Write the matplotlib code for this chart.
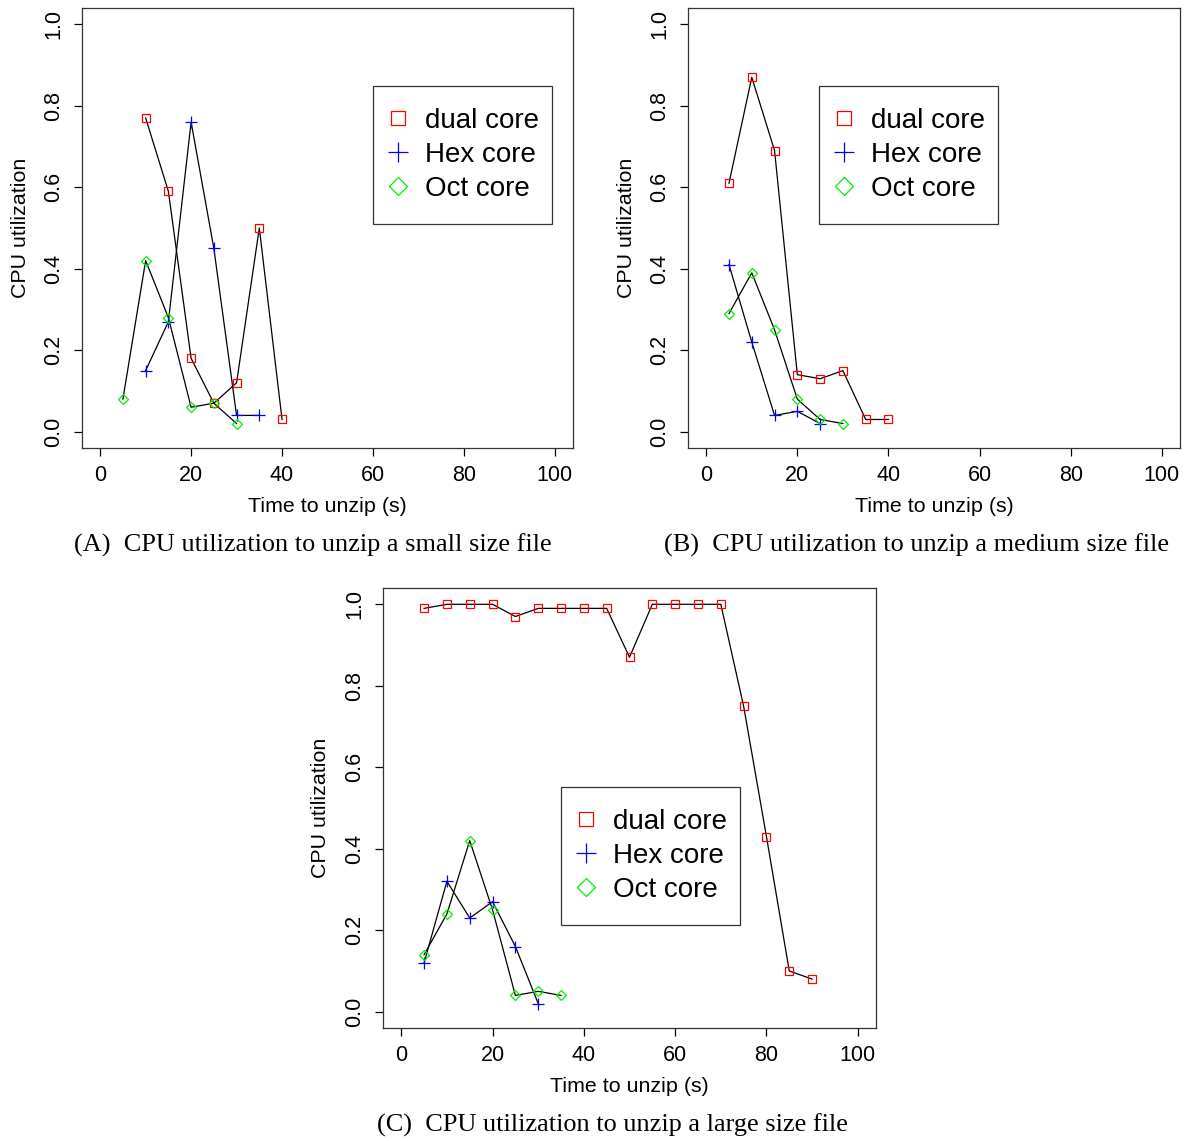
import numpy as np
import matplotlib.pyplot as plt

# panel A: small file
a_dual_t = [10, 15, 20, 25, 30, 35, 40]
a_dual_u = [0.77, 0.59, 0.18, 0.07, 0.12, 0.50, 0.03]
a_hex_t = [10, 15, 20, 25, 30, 35]
a_hex_u = [0.15, 0.27, 0.76, 0.45, 0.04, 0.04]
a_oct_t = [5, 10, 15, 20, 25, 30]
a_oct_u = [0.08, 0.42, 0.28, 0.06, 0.07, 0.02]

# panel B: medium file
b_dual_t = [5, 10, 15, 20, 25, 30, 35, 40]
b_dual_u = [0.61, 0.87, 0.69, 0.14, 0.13, 0.15, 0.03, 0.03]
b_hex_t = [5, 10, 15, 20, 25]
b_hex_u = [0.41, 0.22, 0.04, 0.05, 0.02]
b_oct_t = [5, 10, 15, 20, 25, 30]
b_oct_u = [0.29, 0.39, 0.25, 0.08, 0.03, 0.02]

# panel C: large file
c_dual_t = [5, 10, 15, 20, 25, 30, 35, 40, 45, 50, 55, 60, 65, 70, 75, 80, 85, 90]
c_dual_u = [0.99, 1.0, 1.0, 1.0, 0.97, 0.99, 0.99, 0.99, 0.99, 0.87,
            1.0, 1.0, 1.0, 1.0, 0.75, 0.43, 0.10, 0.08]
c_hex_t = [5, 10, 15, 20, 25, 30]
c_hex_u = [0.12, 0.32, 0.23, 0.27, 0.16, 0.02]
c_oct_t = [5, 10, 15, 20, 25, 30, 35]
c_oct_u = [0.14, 0.24, 0.42, 0.25, 0.04, 0.05, 0.04]

series_names = ['dual core', 'Hex core', 'Oct core']
captions = ['(A)  CPU utilization to unzip a small size file',
            '(B)  CPU utilization to unzip a medium size file',
            '(C)  CPU utilization to unzip a large size file']

W, H = 1187, 1141
SANS = 'Liberation Sans'
SERIF = 'Liberation Serif'

styles = [dict(marker='s', mec='red', mfc='none', ms=5.5, mew=0.9),
          dict(marker='+', mec='blue', ms=8, mew=0.9),
          dict(marker='D', mec='#00ee00', mfc='none', ms=5.5, mew=0.9)]

fig = plt.figure(figsize=(W / 100, H / 100), dpi=100)


def px_axes(l, t, r, b):
    return fig.add_axes([l / W, 1 - b / H, (r - l) / W, (b - t) / H])


def draw_panel(ax, data, leg_box):
    for (t, u), st, name in zip(data, styles, series_names):
        ax.plot(t, u, color='black', lw=0.9, zorder=2)
        ax.plot(t, u, ls='none', label=name, zorder=3, **st)
    ax.set_xlim(-4, 104)
    ax.set_ylim(-0.04, 1.04)
    ax.set_xticks(np.arange(0, 101, 20))
    ax.set_yticks(np.arange(0, 1.01, 0.2))
    ax.set_yticklabels(['%.1f' % v for v in np.arange(0, 1.01, 0.2)],
                       rotation=90, va='center')
    ax.tick_params(direction='out', length=6, width=0.9, labelsize=15.5, pad=6)
    ax.tick_params(axis='y', pad=7)
    for lab in ax.get_xticklabels() + ax.get_yticklabels():
        lab.set_family(SANS)
    for s in ax.spines.values():
        s.set_linewidth(0.9)
        s.set_color('#333333')
    ax.set_xlabel('Time to unzip (s)', family=SANS, fontsize=15.4)
    ax.set_ylabel('CPU utilization', family=SANS, fontsize=15.4)
    ax.xaxis.set_label_coords(0.5, -0.132)
    ax.xaxis.label.set_va('center')
    ax.yaxis.set_label_coords(-0.126, 0.5)
    ax.yaxis.label.set_va('center')
    leg = ax.legend(loc='upper left', bbox_to_anchor=leg_box, mode='expand',
                    prop={'family': SANS, 'size': 20}, markerscale=1.75,
                    fancybox=False, edgecolor='#333333', framealpha=1,
                    handlelength=0.2, handletextpad=0.88, labelspacing=0.28,
                    borderpad=0.8, borderaxespad=0)
    leg.get_frame().set_linewidth(0.9)


axA = px_axes(82, 8, 573, 448)
draw_panel(axA, [(a_dual_t, a_dual_u), (a_hex_t, a_hex_u), (a_oct_t, a_oct_u)],
           (0.593, 0.514, 0.364, 0.309))
axB = px_axes(688, 8, 1180, 448)
draw_panel(axB, [(b_dual_t, b_dual_u), (b_hex_t, b_hex_u), (b_oct_t, b_oct_u)],
           (0.266, 0.514, 0.364, 0.309))
axC = px_axes(383, 588, 876, 1028)
draw_panel(axC, [(c_dual_t, c_dual_u), (c_hex_t, c_hex_u), (c_oct_t, c_oct_u)],
           (0.361, 0.239, 0.363, 0.309))

cap_pos = [(313, 545), (917, 545), (612, 1125)]
for (cx, cy), cap in zip(cap_pos, captions):
    fig.text(cx / W, 1 - cy / H, cap, family=SERIF, fontsize=18.9,
             ha='center', va='center')

fig.savefig('out.png', dpi=100)
